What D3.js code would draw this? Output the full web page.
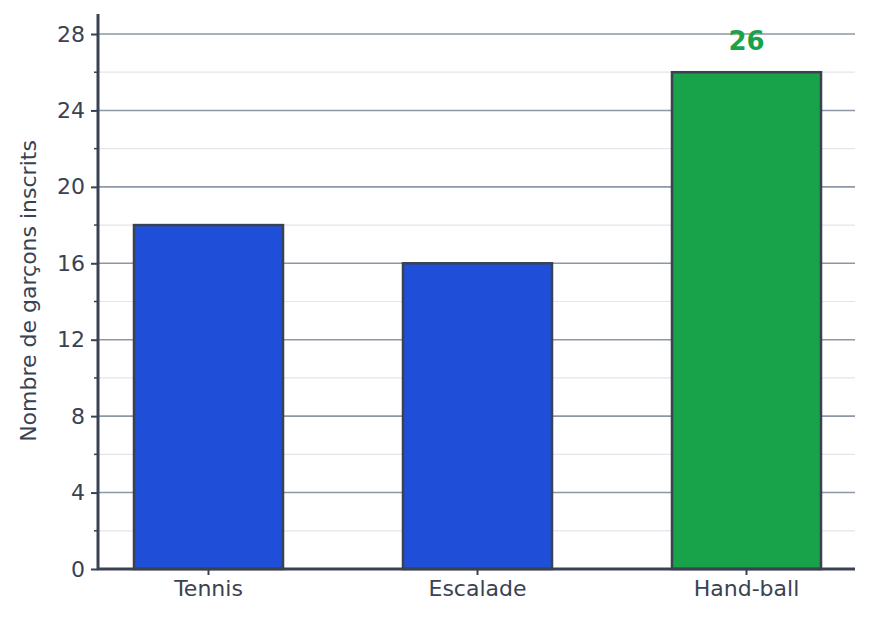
<!DOCTYPE html><html><head><meta charset="utf-8"><script src="https://cdn.jsdelivr.net/npm/d3@7"></script>
<style>body{margin:0;background:#fff}text{font-family:"DejaVu Sans",sans-serif}</style></head><body>
<svg id="c" width="870" height="626"></svg>
<script>
const categories=["Tennis","Escalade","Hand-ball"];
const values=[18,16,26];
const colors=["#1f4fd8","#1f4fd8","#18a34a"];
const majorTicks=[0,4,8,12,16,20,24,28];
const minorTicks=[2,6,10,14,18,22,26];
const svg=d3.select("#c");
const y=d3.scaleLinear().domain([0,28]).range([569,34]);
const x=d3.scaleBand().domain(categories).range([74,881]).paddingInner(0.446).paddingOuter(0.223);
const L=98,R=855,ink="#3a4252";
svg.selectAll(".mn").data(minorTicks).join("line").attr("x1",L).attr("x2",R).attr("y1",d=>y(d)).attr("y2",d=>y(d)).attr("stroke","#e3e5e8").attr("stroke-width",1.2);
svg.selectAll(".mj").data(majorTicks.slice(1)).join("line").attr("x1",L).attr("x2",R).attr("y1",d=>y(d)).attr("y2",d=>y(d)).attr("stroke","#8d97a5").attr("stroke-width",1.6);
svg.selectAll(".b").data(values).join("rect").attr("x",(d,i)=>x(categories[i])).attr("width",x.bandwidth()).attr("y",d=>y(d)).attr("height",d=>y(0)-y(d)).attr("fill",(d,i)=>colors[i]).attr("stroke",ink).attr("stroke-width",2.5);
svg.append("text").attr("x",x("Hand-ball")+x.bandwidth()/2).attr("y",y(26)-22).attr("text-anchor","middle").attr("font-size",26).attr("font-weight","bold").attr("fill","#18a34a").text(values[2]);
const ya=svg.append("g").attr("transform",`translate(${L},0)`).call(d3.axisLeft(y).tickValues(majorTicks).tickSize(7).tickPadding(6));
ya.select(".domain").remove();
ya.selectAll("text").attr("font-size",22).attr("fill",ink);
ya.selectAll("line").attr("stroke",ink).attr("stroke-width",2);
svg.selectAll(".mt").data(minorTicks).join("line").attr("x1",L-4).attr("x2",L).attr("y1",d=>y(d)).attr("y2",d=>y(d)).attr("stroke",ink).attr("stroke-width",1.5);
svg.append("line").attr("x1",L).attr("x2",L).attr("y1",14).attr("y2",570).attr("stroke",ink).attr("stroke-width",3);
const xa=svg.append("g").attr("transform","translate(0,569)").call(d3.axisBottom(x).tickSize(6).tickPadding(5));
xa.select(".domain").remove();
xa.selectAll("text").attr("font-size",22).attr("fill",ink);
xa.selectAll("line").attr("stroke",ink).attr("stroke-width",2);
svg.append("line").attr("x1",L-1).attr("x2",R).attr("y1",569).attr("y2",569).attr("stroke",ink).attr("stroke-width",3);
svg.append("text").attr("transform","translate(36,291) rotate(-90)").attr("text-anchor","middle").attr("font-size",22).attr("fill",ink).text("Nombre de garçons inscrits");
</script></body></html>
